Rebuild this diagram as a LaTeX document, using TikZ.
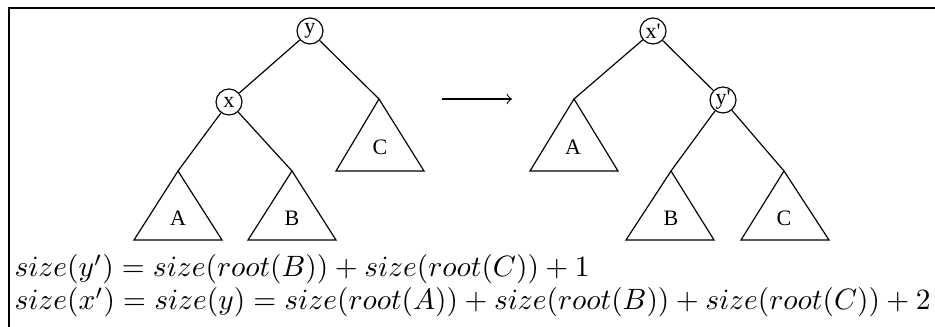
\documentclass[tikz,border=0pt]{standalone}
\usepackage{fontspec}
\newfontfamily\lblfont{Liberation Serif}
\begin{document}
\begin{tikzpicture}[x=0.34pt,y=-0.34pt,
  every path/.style={line width=0.4pt},
  vtx/.style={circle,draw,line width=0.4pt,inner sep=0pt,minimum size=26*0.34pt,font=\lblfont\fontsize{7.5}{8}\selectfont},
  lbl/.style={inner sep=0pt,font=\lblfont\fontsize{7.5}{8}\selectfont},
  tri/.style={line width=0.4pt,line join=miter},
  eq/.style={inner sep=0pt,anchor=base west,font=\fontsize{9.9}{12}\selectfont}]
\useasboundingbox (0,0) rectangle (935,327);
\draw[line width=0.75pt] (935,8) -- (9,8) -- (9,327);
% left tree
\node[vtx] (y) at (310,31) {y};
\node[vtx] (x) at (229,102) {x};
\coordinate (lA) at (178,171);
\coordinate (lB) at (292,171);
\coordinate (lC) at (379,99);
\draw[tri] (lA) -- (134,240) -- (222,240) -- cycle;
\draw[tri] (lB) -- (248,240) -- (336,240) -- cycle;
\draw[tri] (lC) -- (336,171) -- (424,171) -- cycle;
\node[lbl] (tlA) at (178,218) {A};
\node[lbl] (tlB) at (292,218) {B};
\node[lbl] (tlC) at (380,147) {C};
\draw (y) -- (x);
\draw (y) -- (lC);
\draw (x) -- (lA);
\draw (x) -- (lB);
% arrow
\coordinate (as) at (442,99);
\coordinate (ae) at (512,99);
\draw[->] (as) -- (ae);
% right tree
\node[vtx] (xp) at (653,31) {x'};
\node[vtx] (yp) at (723,100) {y'};
\coordinate (rA) at (574,99);
\coordinate (rB) at (671,171);
\coordinate (rC) at (784,171);
\draw[tri] (rA) -- (530,171) -- (618,171) -- cycle;
\draw[tri] (rB) -- (626,240) -- (714,240) -- cycle;
\draw[tri] (rC) -- (741,240) -- (829,240) -- cycle;
\node[lbl] (trA) at (573,147) {A};
\node[lbl] (trB) at (671,218) {B};
\node[lbl] (trC) at (784,218) {C};
\draw (xp) -- (rA);
\draw (xp) -- (yp);
\draw (yp) -- (rB);
\draw (yp) -- (rC);
% equations
\node[eq] (e1) at (14,277) {$size(y') = size(root(B)) + size(root(C)) + 1$};
\node[eq] (e2) at (14,310) {$size(x') = size(y) = size(root(A)) + size(root(B)) + size(root(C)) + 2$};
\end{tikzpicture}
\end{document}
